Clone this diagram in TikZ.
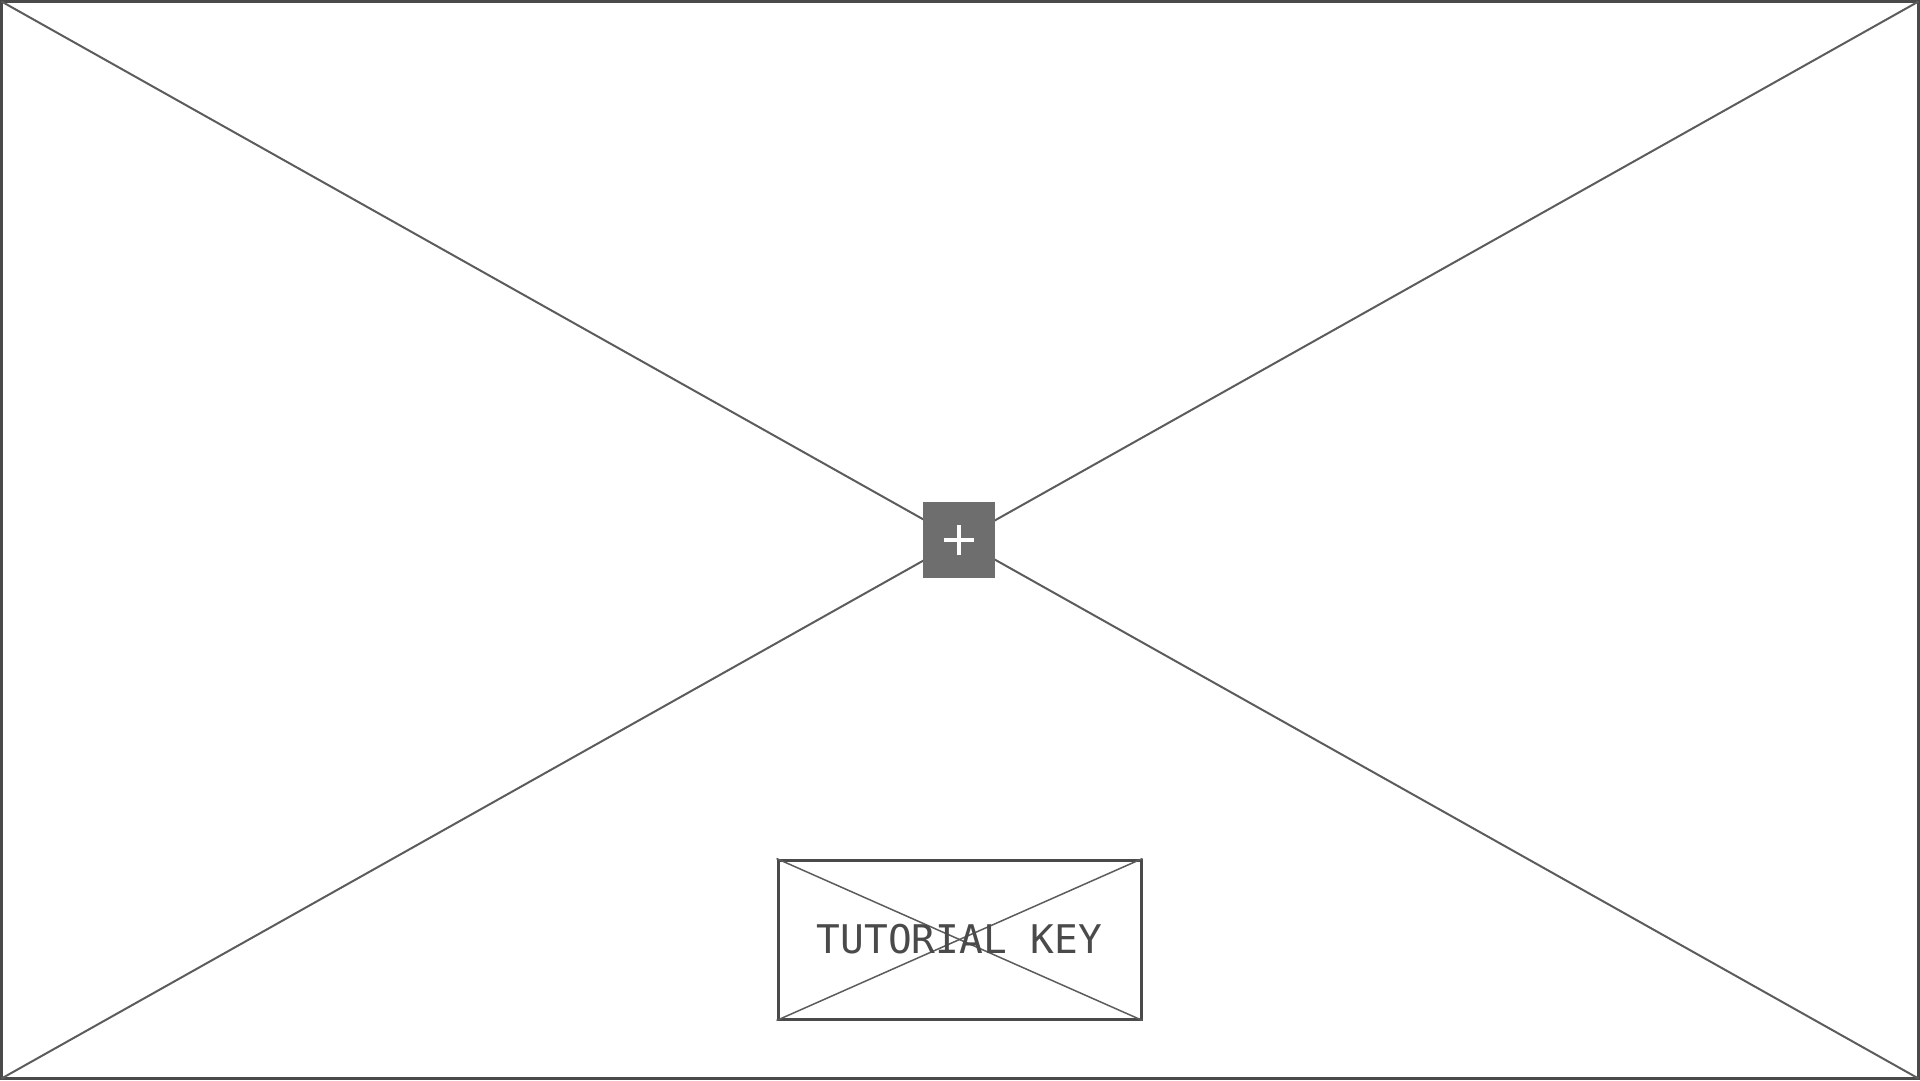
\documentclass[tikz,border=0pt]{standalone}
\usepackage{fontspec}
\setmonofont{DejaVu Sans Mono}
\definecolor{framegray}{HTML}{4A4A4A}
\definecolor{crossgray}{HTML}{5C5C5C}
\definecolor{plusgray}{HTML}{6E6E6E}
\tikzset{
  frame/.style={draw=framegray, line width=3pt},
  cross/.style={draw=crossgray, line width=2pt},
  keybox/.style={frame, minimum width=363pt, minimum height=159pt, inner sep=0pt},
  plusbox/.style={fill=plusgray, minimum width=72pt, minimum height=76pt, inner sep=0pt},
  keytext/.style={text=framegray, font=\ttfamily\fontsize{39.5}{39.5}\selectfont, inner sep=0pt}
}

\begin{document}
\begin{tikzpicture}[x=1pt, y=-1pt]
  \useasboundingbox (0,0) rectangle (1920,1080);
  \coordinate (nw) at (1.5,1.5);
  \coordinate (ne) at (1918.5,1.5);
  \coordinate (sw) at (1.5,1078.5);
  \coordinate (se) at (1918.5,1078.5);
  \draw[frame] (nw) rectangle (se);
  \draw[cross] (nw) -- (se);
  \draw[cross] (ne) -- (sw);
  \node[plusbox] (plus) at (959,540) {};
  \draw[white, line width=4pt] ([xshift=-15pt]plus.center) -- ([xshift=15pt]plus.center);
  \draw[white, line width=4pt] ([yshift=-15pt]plus.center) -- ([yshift=15pt]plus.center);
  \node[keybox] (key) at (959.5,939.5) {};
  \draw[cross, line width=1.5pt] (key.north west) -- (key.south east);
  \draw[cross, line width=1.5pt] (key.north east) -- (key.south west);
  \node[keytext] (label) at (key.center) {TUTORIAL KEY};
\end{tikzpicture}
\end{document}
